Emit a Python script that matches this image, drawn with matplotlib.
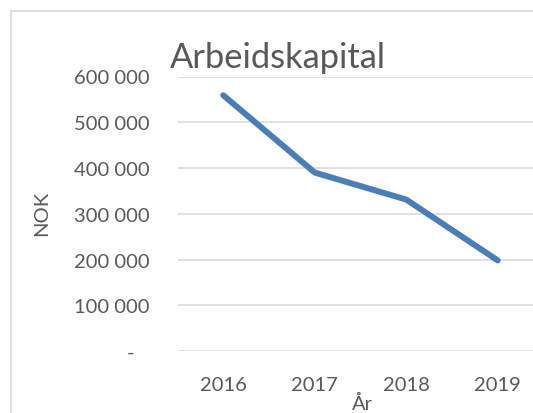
import matplotlib
matplotlib.use("Agg")
import matplotlib.pyplot as plt
from matplotlib.patches import Rectangle
from matplotlib.ticker import FixedLocator, FixedFormatter

years = ["2016", "2017", "2018", "2019"]
values = [559000, 390000, 331000, 198000]
ytick_values = [0, 100000, 200000, 300000, 400000, 500000, 600000]
ytick_labels = ["-   ", "100 000", "200 000", "300 000", "400 000", "500 000", "600 000"]

plt.rcParams['font.family'] = ['Lato', 'DejaVu Sans']
txt = '#595959'

fig = plt.figure(figsize=(5.33, 4.14), dpi=100)
fig.patches.append(Rectangle((11/533, -0.1), 1.2, 1 - 12/414 + 0.1, transform=fig.transFigure,
                             fill=False, edgecolor='#d9d9d9', linewidth=1.2))
ax = fig.add_axes([177.5/533, 1 - 352/414, 366/533, (352 - 77.5)/414])
x = list(range(len(years)))
ax.plot(x, values, color='#4a7ebb', linewidth=4.3, solid_capstyle='round', solid_joinstyle='round', zorder=3)
ax.set_xlim(-0.5, len(years) - 0.5)
ax.set_ylim(0, 600000)
ax.set_xticks(x)
ax.set_xticklabels(years)
ax.yaxis.set_major_locator(FixedLocator(ytick_values))
ax.yaxis.set_major_formatter(FixedFormatter(ytick_labels))
ax.grid(axis='y', color='#d9d9d9', linewidth=1.1)
ax.set_axisbelow(True)
for s in ax.spines.values():
    s.set_visible(False)
ax.tick_params(axis='both', length=0, labelsize=14.5, colors=txt)
ax.tick_params(axis='y', pad=20)
ax.tick_params(axis='x', pad=18)
fig.text(42/533, 1 - 213/414, "NOK", rotation=90, ha='center', va='center', fontsize=14.5, color=txt)
fig.text(362/533, 1 - 404/414, "År", ha='center', va='center', fontsize=14.5, color=txt)
fig.text(170/533, 1 - 68/414, "Arbeidskapital", ha='left', va='baseline', fontsize=24.8, color=txt)

fig.savefig("out.png", dpi=100)
